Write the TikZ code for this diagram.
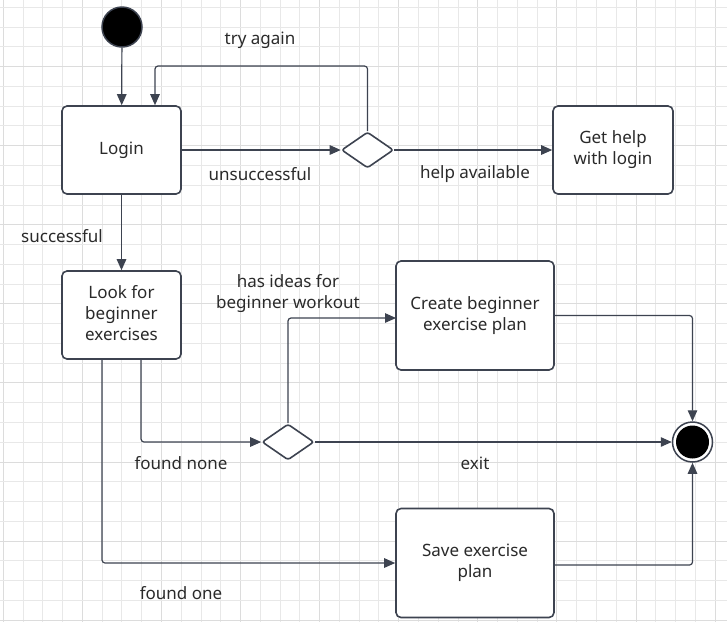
\documentclass[tikz,border=0pt]{standalone}
\usepackage{fontspec}
\setmainfont{Noto Sans}
\usetikzlibrary{arrows.meta,shapes.geometric,calc}
\definecolor{ink}{HTML}{3D4350}
\definecolor{txt}{HTML}{2A2A2A}
\definecolor{gridl}{HTML}{E8E8E8}
\definecolor{gridd}{HTML}{DCDCDC}
\newcommand{\boxtext}[2][-2.5pt]{\raisebox{#1}{\begin{tabular}{@{}c@{}}#2\end{tabular}}}
\tikzset{
  statebox/.style={draw=ink, line width=1.6pt, rounded corners=5pt, fill=white, text=txt, inner sep=0pt},
  decision/.style={diamond, draw=ink, line width=1.6pt, rounded corners=2.5pt, fill=white, minimum width=52pt, minimum height=36pt, inner sep=0pt},
  conn/.style={draw=ink, line width=1.2pt, rounded corners=3pt, -{Triangle[length=11pt,width=9.5pt]}},
  lbl/.style={text=txt, align=center, inner sep=0pt, yshift=-2pt},
}
\begin{document}
\begin{tikzpicture}[x=1pt,y=-1pt,font=\fontsize{17}{21}\selectfont]
\fill[white] (0,0) rectangle (727,622);
\useasboundingbox (0,0) rectangle (727,622);
% grid
\foreach \i in {0,...,36} {
  \pgfmathtruncatemacro{\m}{mod(\i,4)}
  \ifnum\m=0 \def\gc{gridd}\else\def\gc{gridl}\fi
  \draw[\gc, line width=0.9pt] ({3.3+19.77*\i},0) -- ({3.3+19.77*\i},622);
}
\foreach \j in {0,...,31} {
  \pgfmathtruncatemacro{\m}{mod(\j,4)}
  \ifnum\m=3 \def\gc{gridd}\else\def\gc{gridl}\fi
  \draw[\gc, line width=0.9pt] (0,{7.3+19.77*\j}) -- (727,{7.3+19.77*\j});
}
% nodes
\node[circle, fill=black, draw=ink, line width=1.5pt, minimum size=40pt, inner sep=0pt] (start) at (122,27) {};
\node[statebox, minimum width=119pt, minimum height=88pt] (login) at (121.5,150) {\boxtext[-4pt]{Login}};
\node[decision] (d1) at (367.5,150) {};
\node[statebox, minimum width=120pt, minimum height=88pt] (help) at (613,150) {\boxtext{Get help\\with login}};
\node[statebox, minimum width=119pt, minimum height=88pt] (look) at (121.5,315) {\boxtext[-4pt]{Look for\\beginner\\exercises}};
\node[decision] (d2) at (288,442) {};
\node[statebox, minimum width=158pt, minimum height=109pt] (create) at (475,315.5) {\boxtext[-3pt]{Create beginner\\exercise plan}};
\node[statebox, minimum width=158pt, minimum height=109pt] (save) at (475,563) {\boxtext{Save exercise\\plan}};
\node[circle, draw=ink, line width=1.5pt, fill=white, minimum size=40pt, inner sep=0pt] (endc) at (692.5,442) {};
\node[circle, fill=black, minimum size=33pt, inner sep=0pt] (endin) at (endc) {};
% coordinates
\coordinate (loopTop) at (155,66);
\coordinate (lookA) at (141,359);
\coordinate (lookB) at (102,359);
\coordinate (createIn) at (396,318);
\coordinate (saveOut) at (554,565);
% connectors
\draw[conn] (start) -- (login);
\draw[conn] (login) -- (d1);
\draw[conn] (d1.north) |- (loopTop) -- (loopTop |- login.north);
\draw[conn] (d1) -- (help);
\draw[conn] (login) -- (look);
\draw[conn] (lookA) |- (d2.west);
\draw[conn] (d2.north) |- (createIn);
\draw[conn] (create.east) -| (endc.north);
\draw[conn] (d2.east) -- (endc.west);
\draw[conn] (lookB) |- (save.west);
\draw[conn] (saveOut) -| (endc.south);
% labels
\node[lbl] (tTry) at (260,38) {try again};
\node[lbl] (tUns) at (260,172) {unsuccessful};
\node[lbl] (tHelp) at (475,172) {help available};
\node[lbl] (tSucc) at (62,234) {successful};
\node[lbl] (tIdeas) at (288,292) {has ideas for\\beginner workout};
\node[lbl] (tNone) at (181,461) {found none};
\node[lbl] (tExit) at (475,461) {exit};
\node[lbl] (tOne) at (181,591) {found one};
\end{tikzpicture}
\end{document}
